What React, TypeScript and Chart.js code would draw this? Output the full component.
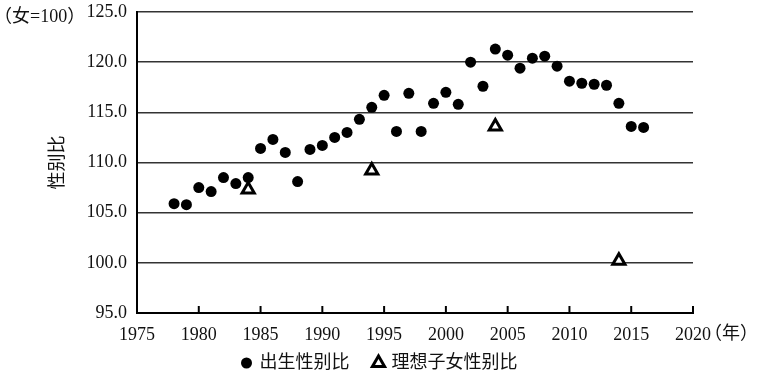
import React, { useEffect, useRef } from "react";
import { Chart, registerables } from "chart.js";

Chart.register(...registerables);

const birthYears = [1978, 1979, 1980, 1981, 1982, 1983, 1984, 1985, 1986, 1987, 1988, 1989, 1990, 1991, 1992, 1993, 1994, 1995, 1996, 1997, 1998, 1999, 2000, 2001, 2002, 2003, 2004, 2005, 2006, 2007, 2008, 2009, 2010, 2011, 2012, 2013, 2014, 2015, 2016];
const birthRatio = [105.9, 105.8, 107.5, 107.1, 108.5, 107.9, 108.5, 111.4, 112.3, 111.0, 108.1, 111.3, 111.7, 112.5, 113.0, 114.3, 115.5, 116.7, 113.1, 116.9, 113.1, 115.9, 117.0, 115.8, 120.0, 117.6, 121.3, 120.7, 119.4, 120.4, 120.6, 119.6, 118.1, 117.9, 117.8, 117.7, 115.9, 113.6, 113.5];
const idealYears = [1984, 1994, 2004, 2014];
const idealRatio = [107.3, 109.2, 113.6, 100.2];

const seriesNames = ["出生性别比", "理想子女性别比"];
const yUnitLabel = "（女=100）";
const yAxisTitle = "性别比";
const xUnitLabel = "（年）";

const FONT = "'Liberation Serif', 'Noto Sans CJK SC', serif";
const FS = 18;

function drawMarker(ctx: CanvasRenderingContext2D, ds: any, x: number, y: number) {
  const r = ds.pointRadius;
  ctx.beginPath();
  if (ds.pointStyle === "triangle") {
    let rad = 0;
    ctx.moveTo(x + Math.sin(rad) * r, y - Math.cos(rad) * r);
    rad += (2 * Math.PI) / 3;
    ctx.lineTo(x + Math.sin(rad) * r, y - Math.cos(rad) * r);
    rad += (2 * Math.PI) / 3;
    ctx.lineTo(x + Math.sin(rad) * r, y - Math.cos(rad) * r);
    ctx.closePath();
  } else {
    ctx.arc(x, y, r, 0, Math.PI * 2);
  }
  ctx.fillStyle = ds.backgroundColor;
  ctx.fill();
  if (ds.borderWidth > 0) {
    ctx.lineWidth = ds.borderWidth;
    ctx.strokeStyle = ds.borderColor;
    ctx.stroke();
  }
}

const extrasPlugin = {
  id: "extras",
  afterDraw(chart: any) {
    const { ctx, chartArea, scales } = chart;
    const xs = scales.x;
    ctx.save();
    // inner tick marks on x axis
    ctx.strokeStyle = "#000";
    ctx.lineWidth = 2;
    xs.ticks.forEach((t: any) => {
      if (t.value <= xs.min) return;
      const px = xs.getPixelForValue(t.value);
      ctx.beginPath();
      ctx.moveTo(px, chartArea.bottom);
      ctx.lineTo(px, chartArea.bottom - 7);
      ctx.stroke();
    });
    ctx.fillStyle = "#111";
    ctx.font = `${FS}px ${FONT}`;
    ctx.textBaseline = "middle";
    ctx.textAlign = "left";
    ctx.fillText(yUnitLabel, -6, 17);
    ctx.fillText(xUnitLabel, chartArea.right + 11, chartArea.bottom + 21);

    // legend
    const dsets = chart.data.datasets;
    const markerGap = 13;
    const itemGap = 29;
    const widths = dsets.map((d: any) => markerGap + ctx.measureText(d.label).width);
    const total = widths.reduce((a: number, b: number) => a + b, 0) + itemGap * (dsets.length - 1);
    let lx = 382 - total / 2;
    const ly = 363;
    dsets.forEach((d: any, i: number) => {
      drawMarker(ctx, d, lx, ly);
      ctx.fillStyle = "#111";
      ctx.fillText(d.label, lx + markerGap, ly);
      lx += widths[i] + itemGap;
    });

    ctx.translate(58, (chartArea.top + chartArea.bottom) / 2);
    ctx.rotate(-Math.PI / 2);
    ctx.textAlign = "center";
    ctx.fillStyle = "#111";
    ctx.fillText(yAxisTitle, 0, 0);
    ctx.restore();
  },
};

export default function App() {
  const ref = useRef<HTMLCanvasElement | null>(null);
  useEffect(() => {
    if (!ref.current) return;
    const chart = new Chart(ref.current, {
      type: "scatter",
      data: {
        datasets: [
          {
            label: seriesNames[0],
            data: birthYears.map((y, i) => ({ x: y, y: birthRatio[i] })),
            pointStyle: "circle",
            pointRadius: 5.5,
            backgroundColor: "#000",
            borderColor: "#000",
            borderWidth: 0,
          },
          {
            label: seriesNames[1],
            data: idealYears.map((y, i) => ({ x: y, y: idealRatio[i] })),
            pointStyle: "triangle",
            pointRadius: 7,
            backgroundColor: "#fff",
            borderColor: "#000",
            borderWidth: 3,
          },
        ],
      },
      options: {
        animation: false,
        responsive: false,
        layout: { padding: { left: 0, right: 69, top: 12, bottom: 30 } },
        plugins: {
          tooltip: { enabled: false },
          legend: { display: false },
        },
        scales: {
          x: {
            type: "linear",
            min: 1975,
            max: 2020,
            afterFit: (s: any) => {
              s.height = 35;
              s.paddingLeft = 0;
              s.paddingRight = 0;
            },
            ticks: {
              stepSize: 5,
              padding: 11,
              color: "#111",
              font: { family: FONT, size: FS },
              callback: (v: any) => String(v),
              maxRotation: 0,
            },
            grid: { display: false, drawTicks: false },
            border: { color: "#000", width: 2 },
          },
          y: {
            min: 95,
            max: 125,
            afterFit: (s: any) => {
              s.width = 137;
              s.paddingTop = 0;
              s.paddingBottom = 0;
            },
            ticks: {
              stepSize: 5,
              padding: 10,
              color: "#111",
              font: { family: FONT, size: FS },
              callback: (v: any) => Number(v).toFixed(1),
            },
            grid: { color: "#333", lineWidth: 1.6, drawTicks: false },
            border: { color: "#000", width: 2 },
          },
        },
      },
      plugins: [extrasPlugin],
    });
    return () => chart.destroy();
  }, []);
  return (
    <div style={{ position: "fixed", left: 0, top: 0, width: 762, height: 378, background: "#fff" }}>
      <canvas ref={ref} width={762} height={378} style={{ width: 762, height: 378 }} />
    </div>
  );
}
